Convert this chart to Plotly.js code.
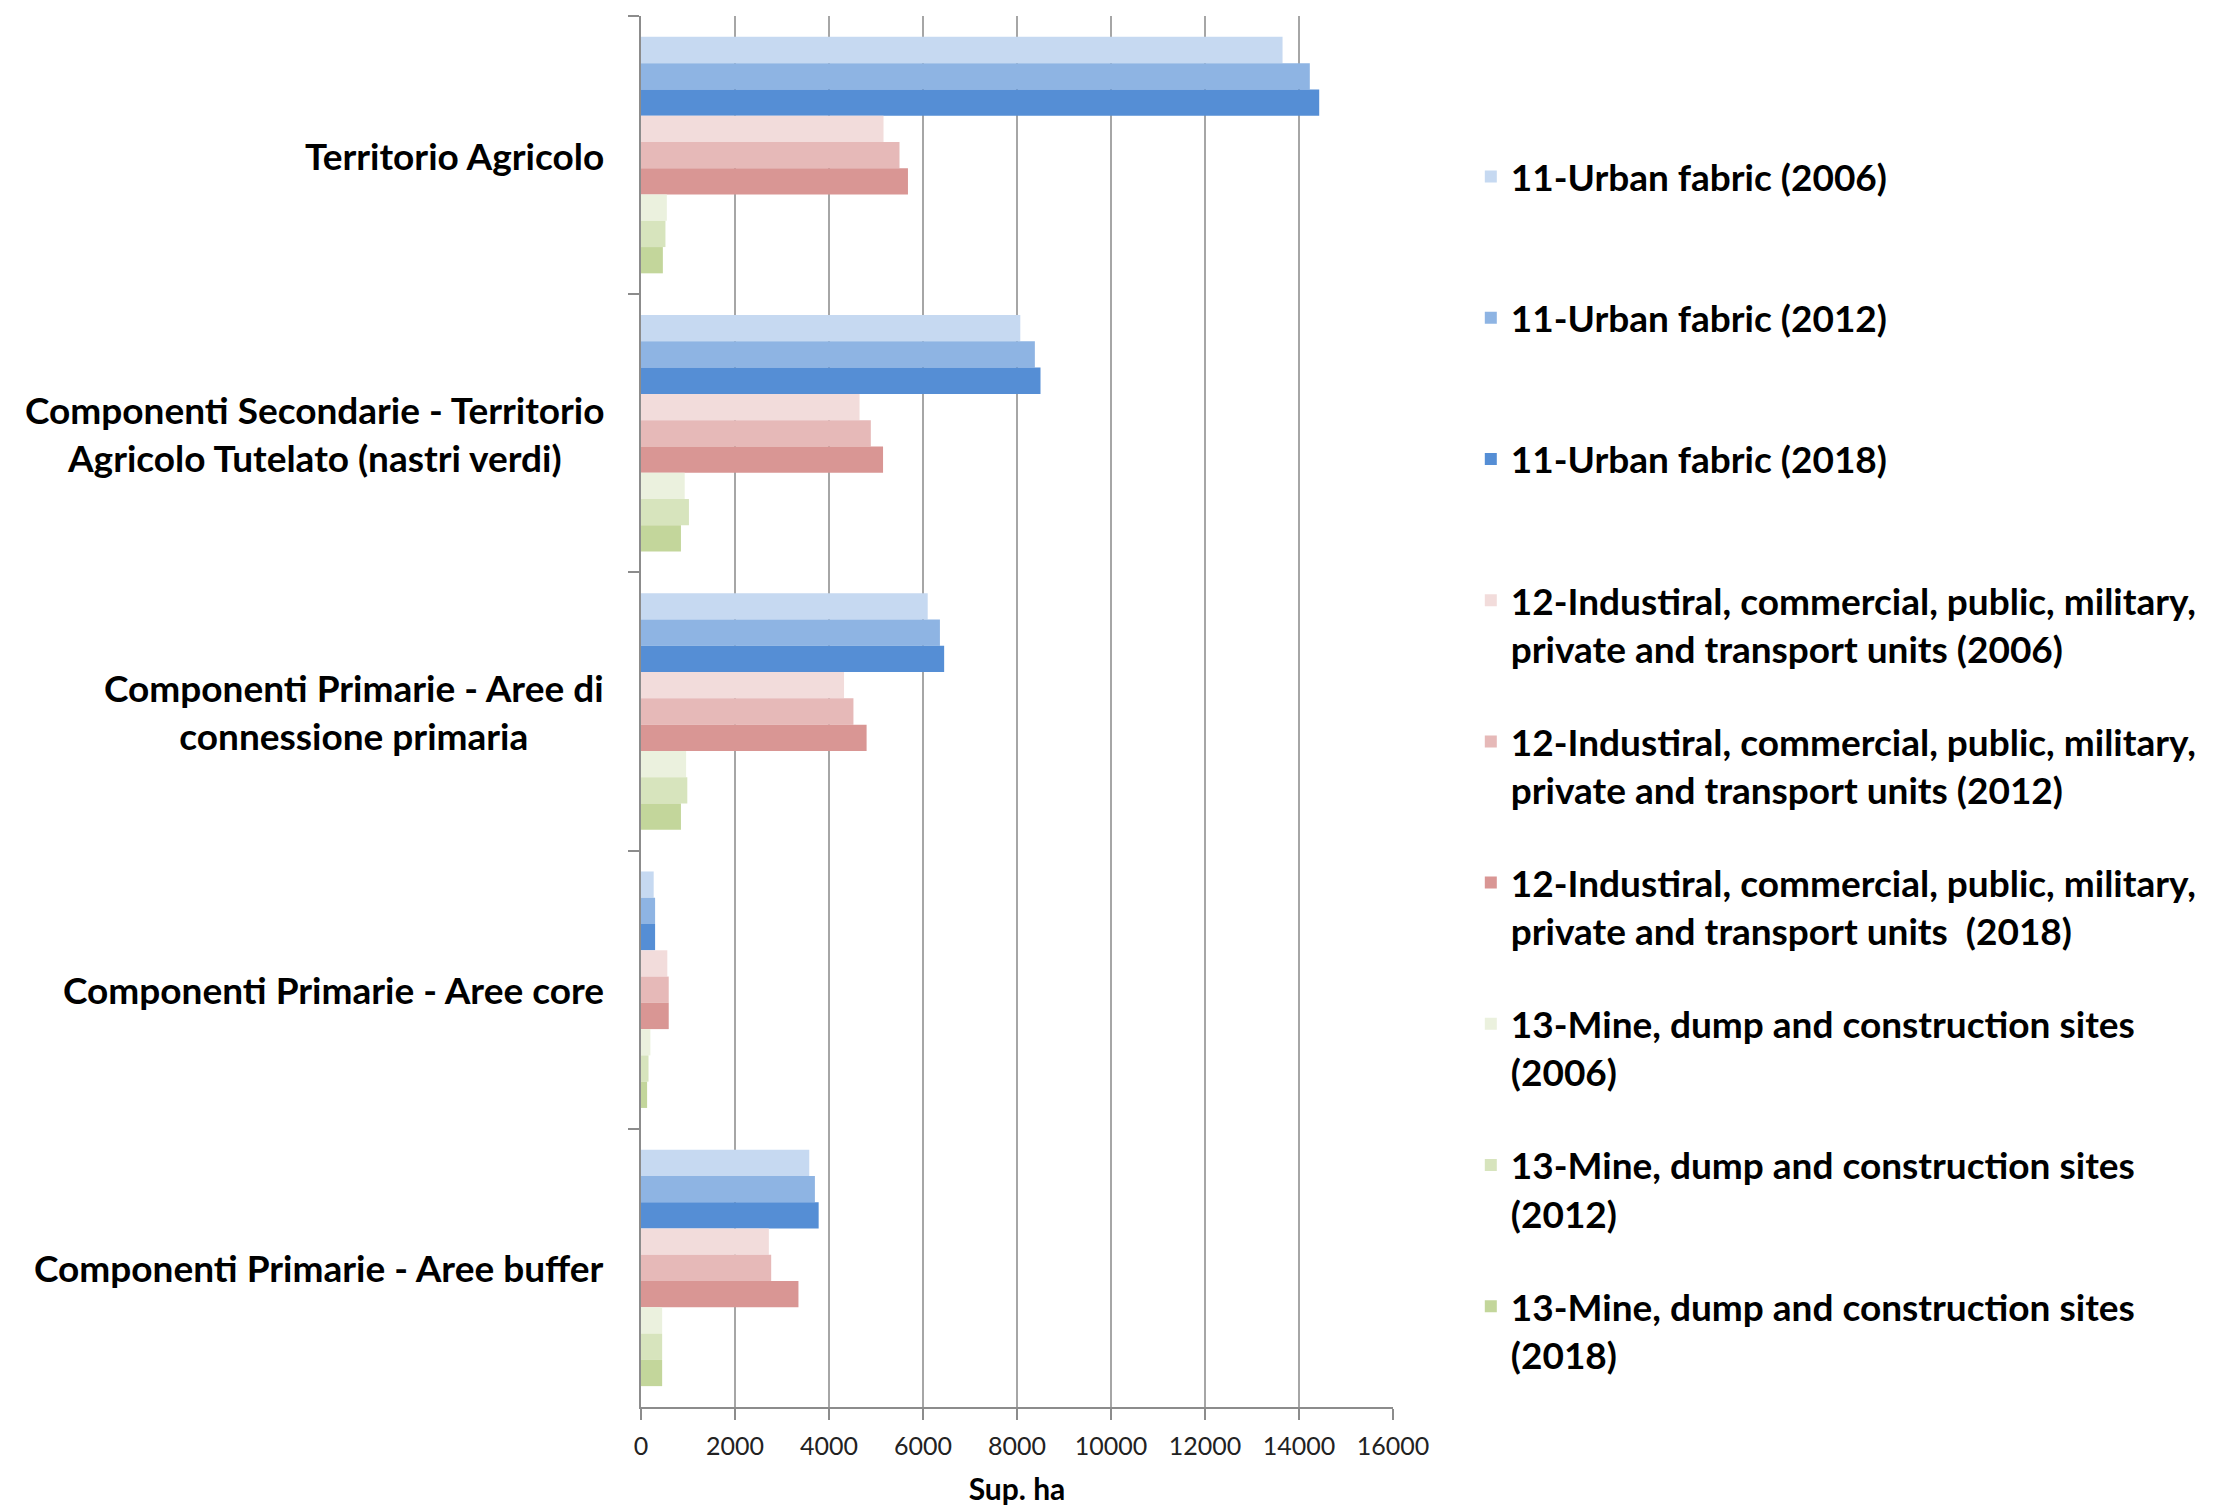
<!DOCTYPE html>
<html>
<head>
<meta charset="utf-8">
<script src="https://cdn.plot.ly/plotly-3.0.1.min.js"></script>
<style>html,body{margin:0;padding:0;background:#fff;}#chart{width:2213px;height:1507px;}</style>
</head>
<body>
<div id="chart"></div>
<script>
const categories = [
  "Territorio Agricolo",
  "Componenti Secondarie - Territorio Agricolo Tutelato (nastri verdi)",
  "Componenti Primarie - Aree di connessione primaria",
  "Componenti Primarie - Aree core",
  "Componenti Primarie - Aree buffer"
];
const categoryLabels = [
  "Territorio Agricolo",
  "Componenti Secondarie - Territorio<br>Agricolo Tutelato (nastri verdi)",
  "Componenti Primarie - Aree di<br>connessione primaria",
  "Componenti Primarie - Aree core",
  "Componenti Primarie - Aree buffer"
];
const seriesNames = [
  "11-Urban fabric (2006)",
  "11-Urban fabric (2012)",
  "11-Urban fabric (2018)",
  "12-Industiral, commercial, public, military,<br>private and transport units (2006)",
  "12-Industiral, commercial, public, military,<br>private and transport units (2012)",
  "12-Industiral, commercial, public, military,<br>private and transport units  (2018)",
  "13-Mine, dump and construction sites<br>(2006)",
  "13-Mine, dump and construction sites<br>(2012)",
  "13-Mine, dump and construction sites<br>(2018)"
];
const urban2006 = [13650, 8070, 6100, 270, 3580];
const urban2012 = [14230, 8380, 6360, 300, 3700];
const urban2018 = [14430, 8500, 6450, 300, 3780];
const ind2006 = [5160, 4650, 4320, 560, 2720];
const ind2012 = [5500, 4890, 4520, 590, 2770];
const ind2018 = [5680, 5150, 4800, 590, 3350];
const mine2006 = [550, 930, 960, 200, 450];
const mine2012 = [520, 1020, 985, 160, 450];
const mine2018 = [465, 850, 850, 130, 450];
const seriesValues = [urban2006, urban2012, urban2018, ind2006, ind2012, ind2018, mine2006, mine2012, mine2018];
const colors = ["#c6d9f1", "#8eb4e3", "#558ed5", "#f2dcdb", "#e6b9b8", "#d99694", "#ebf1de", "#d7e4bd", "#c3d69b"];
const xTicks = [0, 2000, 4000, 6000, 8000, 10000, 12000, 14000, 16000];

const FONT = "Lato, 'Open Sans', sans-serif";

const traces = seriesNames.map((name, i) => ({
  type: "bar",
  orientation: "h",
  name: name.indexOf("<br>") >= 0 ? name : name + "<br>\u00a0",
  y: categories,
  x: seriesValues[i],
  marker: { color: colors[i], line: { width: 0 } },
  legendgroup: "g" + i,
  hoverinfo: "x+name"
}));

const annotations = categories.map((c, i) => ({
  xref: "paper", yref: "y",
  x: -0.046, y: c,
  xanchor: "right", yanchor: "middle",
  align: "center",
  text: "<b>" + categoryLabels[i] + "</b>",
  showarrow: false,
  font: { family: FONT, size: 37, color: "#000" }
}));

const layout = {
  width: 2213, height: 1507,
  margin: { l: 641, r: 819, t: 16, b: 100, pad: 0 },
  paper_bgcolor: "#fff", plot_bgcolor: "#fff",
  barmode: "group",
  bargap: 0.15,
  bargroupgap: 0,
  font: { family: FONT, color: "#000" },
  showlegend: true,
  legend: {
    x: 1.102, xanchor: "left",
    y: 0.9065, yanchor: "top",
    valign: "top",
    traceorder: "grouped",
    tracegroupgap: 42,
    font: { family: FONT, size: 37, color: "#000", weight: "bold" },
    bgcolor: "rgba(0,0,0,0)"
  },
  xaxis: {
    range: [0, 16000],
    tickvals: xTicks,
    tickformat: "d",
    showgrid: true,
    gridcolor: "#a6a6a6",
    gridwidth: 2,
    zeroline: false,
    showline: true,
    linecolor: "#8c8c8c",
    linewidth: 2,
    ticks: "outside",
    ticklen: 11,
    tickwidth: 2,
    tickcolor: "#8c8c8c",
    ticklabelstandoff: 5,
    tickfont: { family: FONT, size: 25, color: "#222" },
    title: { text: "<b>Sup. ha</b>", font: { family: FONT, size: 30, color: "#000" }, standoff: 20 },
    fixedrange: true
  },
  yaxis: {
    type: "category",
    categoryorder: "array",
    categoryarray: categories,
    autorange: "reversed",
    showgrid: false,
    zeroline: false,
    showline: true,
    linecolor: "#8c8c8c",
    linewidth: 2,
    ticks: "outside",
    tickson: "boundaries",
    ticklen: 11,
    tickwidth: 2,
    tickcolor: "#8c8c8c",
    showticklabels: false,
    fixedrange: true
  },
  annotations: annotations
};

Plotly.newPlot("chart", traces, layout, { displayModeBar: false, staticPlot: true });
</script>
</body>
</html>
